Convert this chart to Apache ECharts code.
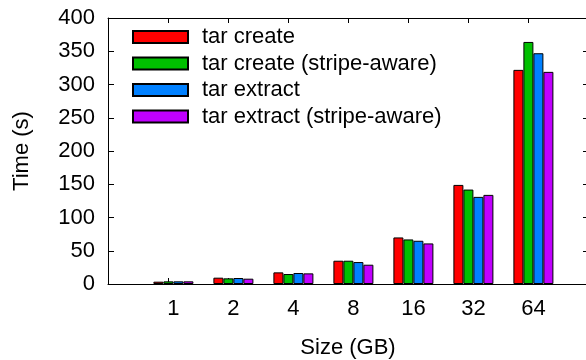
<!DOCTYPE html>
<html>
<head>
<meta charset="utf-8">
<script src="https://cdn.jsdelivr.net/npm/echarts@6/dist/echarts.min.js"></script>
<style>
  html, body { margin: 0; padding: 0; background: #fff; }
  #chart { width: 586px; height: 360px; }
</style>
</head>
<body>
<div id="chart"></div>
<script>
// File sizes on the x axis and measured times (seconds) for each tar variant
const sizes = ['1', '2', '4', '8', '16', '32', '64'];
const tarCreate = [3.5, 9.5, 17.5, 35, 70, 149, 322];
const tarCreateStripe = [4, 8.5, 15, 35, 67, 142, 364];
const tarExtract = [4, 9, 16.5, 33, 65, 131, 347];
const tarExtractStripe = [4, 8, 16, 29, 61, 134, 319];
const yTicks = [0, 50, 100, 150, 200, 250, 300, 350, 400];

const seriesNames = ['tar create', 'tar create (stripe-aware)', 'tar extract', 'tar extract (stripe-aware)'];
const seriesValues = [tarCreate, tarCreateStripe, tarExtract, tarExtractStripe];
const seriesColors = ['#ff0000', '#00c000', '#0080ff', '#c000ff'];

const FONT = 'Liberation Sans, Arial, Helvetica, sans-serif';
const FS = 22;

// x positions: one unit per size, labels under each cluster, tick marks slightly left
const idx = sizes.map((_, i) => i);
const tickPos = idx.map(i => i - 5 / 60);

const chart = echarts.init(document.getElementById('chart'), null, { renderer: 'canvas' });

chart.setOption({
  animation: false,
  backgroundColor: '#fff',
  textStyle: { fontFamily: FONT },
  grid: { left: 108, right: -2, top: 18, bottom: 76, containLabel: false, outerBoundsMode: 'none' },
  legend: {
    orient: 'vertical',
    left: 132,
    top: 26,
    padding: 0,
    itemWidth: 55,
    itemHeight: 12,
    itemGap: 4.5,
    icon: 'rect',
    textStyle: { fontFamily: FONT, fontSize: FS, color: '#000', padding: [0, 0, 0, 9] },
    data: seriesNames
  },
  xAxis: [
    {
      type: 'value',
      position: 'bottom',
      min: -1.09,
      max: 6.91,
      name: 'Size (GB)',
      nameLocation: 'middle',
      nameGap: 53,
      nameTextStyle: { fontFamily: FONT, fontSize: FS, color: '#000' },
      axisLine: { show: true, onZero: false, lineStyle: { color: '#000', width: 1 } },
      axisTick: { show: true, inside: true, length: 6, customValues: tickPos, lineStyle: { color: '#000' } },
      axisLabel: {
        show: true, margin: 14, color: '#000', fontFamily: FONT, fontSize: FS,
        customValues: idx,
        formatter: v => sizes[Math.round(v)]
      },
      splitLine: { show: false }
    },
    {
      type: 'value',
      position: 'top',
      min: -1.09,
      max: 6.91,
      axisLine: { show: true, onZero: false, lineStyle: { color: '#000', width: 1 } },
      axisTick: { show: true, inside: true, length: 5, customValues: tickPos, lineStyle: { color: '#000' } },
      axisLabel: { show: false },
      splitLine: { show: false }
    }
  ],
  yAxis: [
    {
      type: 'value',
      position: 'left',
      min: yTicks[0],
      max: yTicks[yTicks.length - 1],
      interval: 50,
      name: 'Time (s)',
      nameLocation: 'middle',
      nameGap: 75,
      nameRotate: 90,
      nameTextStyle: { fontFamily: FONT, fontSize: FS, color: '#000' },
      axisLine: { show: true, onZero: false, lineStyle: { color: '#000', width: 1 } },
      axisTick: { show: true, inside: true, length: 6, lineStyle: { color: '#000' } },
      axisLabel: { show: true, margin: 13, color: '#000', fontFamily: FONT, fontSize: FS },
      splitLine: { show: false }
    },
    {
      type: 'value',
      position: 'right',
      min: yTicks[0],
      max: yTicks[yTicks.length - 1],
      interval: 50,
      axisLine: { show: true, onZero: false, lineStyle: { color: '#000', width: 1 } },
      axisTick: { show: true, inside: true, length: 5, lineStyle: { color: '#000' } },
      axisLabel: { show: false },
      splitLine: { show: false }
    }
  ],
  series: seriesNames.map((name, s) => ({
    name,
    type: 'bar',
    xAxisIndex: 0,
    yAxisIndex: 0,
    barWidth: 10,
    barGap: '0%',
    itemStyle: { color: seriesColors[s], borderColor: '#000', borderWidth: 1 },
    data: seriesValues[s].map((v, i) => [idx[i], v])
  }))
});
</script>
</body>
</html>
